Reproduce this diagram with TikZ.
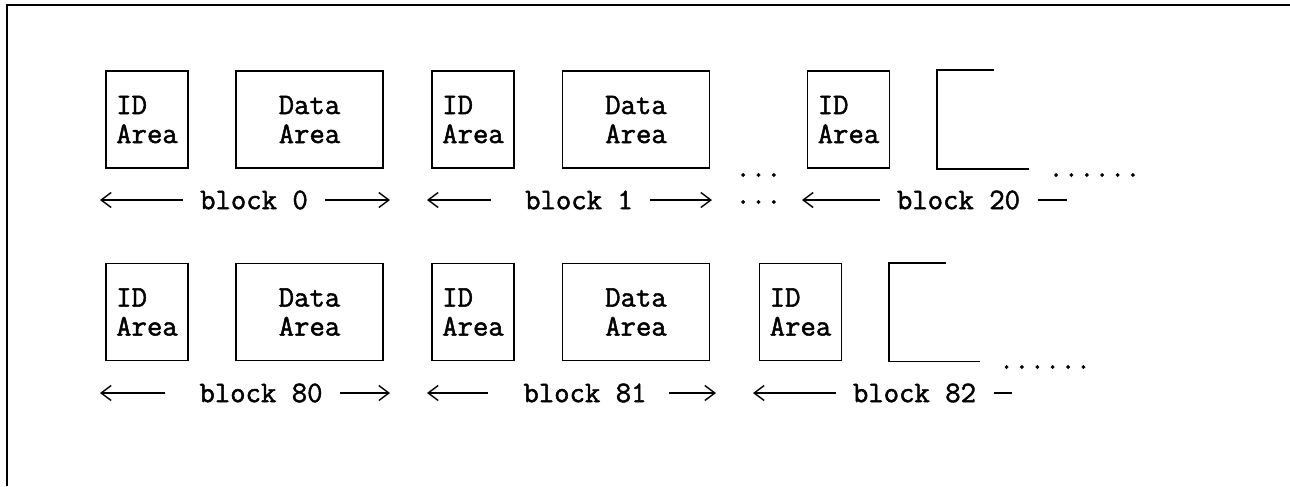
\documentclass[tikz,border=0pt]{standalone}
\usepackage{fontspec}
\newfontfamily\typewfont[FakeBold=1.6]{Latin Modern Mono}
\usetikzlibrary{arrows.meta}

\begin{document}
\begin{tikzpicture}[
  font=\typewfont\fontsize{17}{16.5}\selectfont,
  line width=1.1pt,
  idbox/.style={draw,rectangle,minimum width=1.64cm,minimum height=1.94cm,align=left,inner sep=0pt},
  databox/.style={draw,rectangle,minimum width=2.94cm,minimum height=1.94cm,align=center,inner sep=0pt},
  openbox/.style={rectangle,minimum width=1.8cm,minimum height=1.94cm,inner sep=0pt},
  blk/.style={inner xsep=0.33cm,inner ysep=0pt},
  dots/.style={inner sep=0pt},
  blkarr/.style={line width=0.8pt,-{Straight Barb[length=0.2cm,width=0.3cm]}},
  blkdash/.style={line width=0.8pt}
]
\useasboundingbox (0,0) rectangle (25.8,-9.72);
\draw (0.14,-9.72) -- (0.14,-0.1) -- (25.8,-0.1);
% first row of blocks
\node[idbox] (ID0) at (2.94,-2.39) {ID\\Area};
\node[databox] (DA0) at (6.19,-2.39) {Data\\Area};
\node[idbox] (ID1) at (9.46,-2.39) {ID\\Area};
\node[databox] (DA1) at (12.72,-2.39) {Data\\Area};
\node[idbox] (ID20) at (16.97,-2.39) {ID\\Area};
\node[openbox] (DA20) at (19.66,-2.39) {};
\draw ([xshift=1.14cm]DA20.north west) -- (DA20.north west) -- (DA20.south west) -- (DA20.south east);
\node[dots] (G1) at (15.17,-3.5) {...};
\node[dots] (G20) at (21.89,-3.5) {......};
\node[blk] (B0) at (5.08,-4.0) {block 0};
\node[blk] (B1) at (11.58,-4.0) {block 1};
\node[dots] (G1b) at (15.17,-4.04) {...};
\node[blk] (B20) at (19.17,-4.0) {block 20};
\coordinate (L0) at (2.0,-4.0);
\coordinate (R0) at (7.8,-4.0);
\coordinate (L1) at (8.54,-4.0);
\coordinate (R1) at (14.24,-4.0);
\coordinate (L20) at (16.04,-4.0);
\coordinate (R20) at (21.34,-4.0);
\draw[blkarr] (B0.west) -- (L0);
\draw[blkarr] (B0.east) -- (R0);
\draw[blkarr] ([xshift=-0.33cm]B1.west) -- (L1);
\draw[blkarr] (B1.east) -- (R1);
\draw[blkarr] (B20.west) -- (L20);
\draw[blkdash] (B20.east) -- (R20);
% second row of blocks
\node[idbox] (ID80) at (2.94,-6.24) {ID\\Area};
\node[databox] (DA80) at (6.19,-6.24) {Data\\Area};
\node[idbox] (ID81) at (9.46,-6.24) {ID\\Area};
\node[databox] (DA81) at (12.72,-6.24) {Data\\Area};
\node[idbox] (ID82) at (16.01,-6.24) {ID\\Area};
\node[openbox,minimum width=1.78cm] (DA82) at (18.69,-6.24) {};
\draw ([xshift=1.14cm]DA82.north west) -- (DA82.north west) -- (DA82.south west) -- (DA82.south east);
\node[dots] (G82) at (20.9,-7.34) {......};
\node[blk] (B80) at (5.22,-7.86) {block 80};
\node[blk] (B81) at (11.7,-7.86) {block 81};
\node[blk] (B82) at (18.29,-7.86) {block 82};
\coordinate (L80) at (2.0,-7.86);
\coordinate (R80) at (7.8,-7.86);
\coordinate (L81) at (8.54,-7.86);
\coordinate (R81) at (14.32,-7.86);
\coordinate (L82) at (15.06,-7.86);
\coordinate (R82) at (20.24,-7.86);
\draw[blkarr] ([xshift=-0.33cm]B80.west) -- (L80);
\draw[blkarr] (B80.east) -- (R80);
\draw[blkarr] ([xshift=-0.35cm]B81.west) -- (L81);
\draw[blkarr] ([xshift=0.1cm]B81.east) -- (R81);
\draw[blkarr] (B82.west) -- (L82);
\draw[blkdash] (B82.east) -- (R82);
\end{tikzpicture}
\end{document}
